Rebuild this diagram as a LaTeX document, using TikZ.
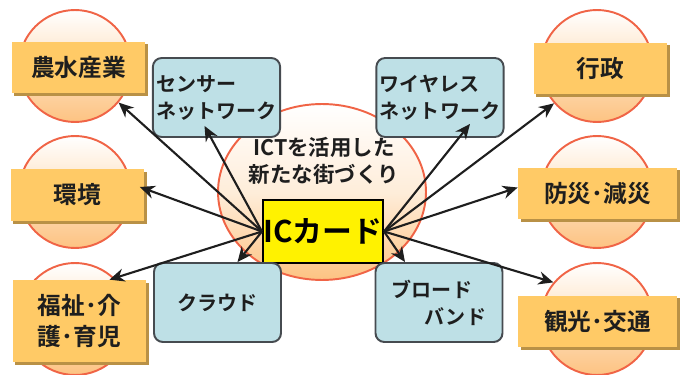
\documentclass[tikz,border=0pt]{standalone}
\usepackage{fontspec}
\setmainfont{Noto Sans CJK JP}[BoldFont={Noto Sans CJK JP Bold}]
\usetikzlibrary{arrows.meta,calc,shadows,shapes.geometric}
\definecolor{ringred}{RGB}{240,100,70}
\definecolor{peach}{RGB}{253,195,130}
\definecolor{tagorange}{RGB}{255,202,102}
\definecolor{tagshadow}{RGB}{185,145,70}
\definecolor{netblue}{RGB}{190,224,230}
\definecolor{netedge}{RGB}{70,75,80}
\definecolor{ink}{RGB}{30,30,30}
\tikzset{
  ring/.style={circle,draw=ringred,line width=1.1pt,minimum size=2.24cm,
    top color=white,bottom color=peach},
  tag/.style={rectangle,fill=tagorange,minimum width=2.68cm,minimum height=1.04cm,
    text=ink,font=\bfseries\fontsize{13.5}{17}\selectfont,align=center,
    drop shadow={shadow xshift=1.6pt,shadow yshift=-1.6pt,fill=tagshadow,opacity=1}},
  net/.style={rectangle,rounded corners=5pt,draw=netedge,line width=1.1pt,fill=netblue,
    minimum width=2.54cm,minimum height=1.58cm,align=left,text=ink,inner sep=2pt,
    font=\bfseries\fontsize{11.4}{15.4}\selectfont},
  arr/.style={-{Stealth[length=8.5pt,width=7.5pt]},line width=1.2pt,draw=ink}
}
\begin{document}
\begin{tikzpicture}[x=0.02cm,y=-0.02cm]
\useasboundingbox (0,0) rectangle (680,375);
% rings behind the labels
\node[ring] (nosoRing) at (75,66) {};
\node[ring] (kankyoRing) at (75,192) {};
\node[ring] (fukushiRing) at (75,319) {};
\node[ring] (gyoseiRing) at (597,66) {};
\node[ring] (bousaiRing) at (597,192) {};
\node[ring] (kankoRing) at (597,319) {};
% center
\node[ellipse,draw=ringred,line width=1.1pt,minimum width=4.16cm,minimum height=3.52cm,
  top color=white,bottom color=peach,middle color=white!70!peach] (hub) at (322,192) {};
\node[align=center,text=ink,font=\bfseries\fontsize{12.2}{15.4}\selectfont] (theme) at (324,161)
  {ICTを活用した\\新たな街づくり};
\node[rectangle,draw=black,line width=1.2pt,fill=yellow,minimum width=2.4cm,minimum height=1.26cm,
  inner sep=0pt,font=\bfseries\fontsize{17}{20}\selectfont] (card) at (323,231.5) {ICカード};
% networks
\node[net] (sensor) at (216.5,97.5) {センサー\\ネットワーク};
\node[net] (wireless) at (440,97.5) {ワイヤレス\\ネットワーク};
\node[net,align=center] (cloud) at (217.5,302.5) {クラウド};
\node[net] (broad) at (439,302.5) {ブロード\\\hspace*{1.65em}バンド};
% fields
\node[tag] (noso) at (78.5,67.5) {農水産業};
\node[tag] (kankyo) at (77.5,195) {環境};
\node[tag,minimum height=1.64cm,font=\bfseries\fontsize{13.5}{17.5}\selectfont] (fukushi) at (79.5,321) {福祉･介\\護･育児};
\node[tag] (gyosei) at (600.5,68.5) {行政};
\node[tag,minimum width=3.18cm] (bousai) at (597.5,193.5) {防災･減災};
\node[tag,minimum width=3.18cm] (kanko) at (597.5,321.5) {観光･交通};
% arrows
\draw[arr] (card.west) -- (nosoRing.-40);
\draw[arr] (card.west) -- ($(sensor.south)+(-12,-12)$);
\draw[arr] (card.west) -- ($(kankyo.east)+(-5,-8)$);
\draw[arr] (card.west) -- ($(fukushi.north)+(30,0)$);
\draw[arr] (card.west) -- ($(cloud.north)+(20,0)$);
\draw[arr] (card.east) -- ($(wireless.south)+(30,-14)$);
\draw[arr] (card.east) -- (gyoseiRing.-139);
\draw[arr] (card.east) -- ($(bousai.west)+(0,-6)$);
\draw[arr] (card.east) -- (kankoRing.140);
\draw[arr] (card.east) -- ($(broad.north)+(-34,0)$);
\end{tikzpicture}
\end{document}
